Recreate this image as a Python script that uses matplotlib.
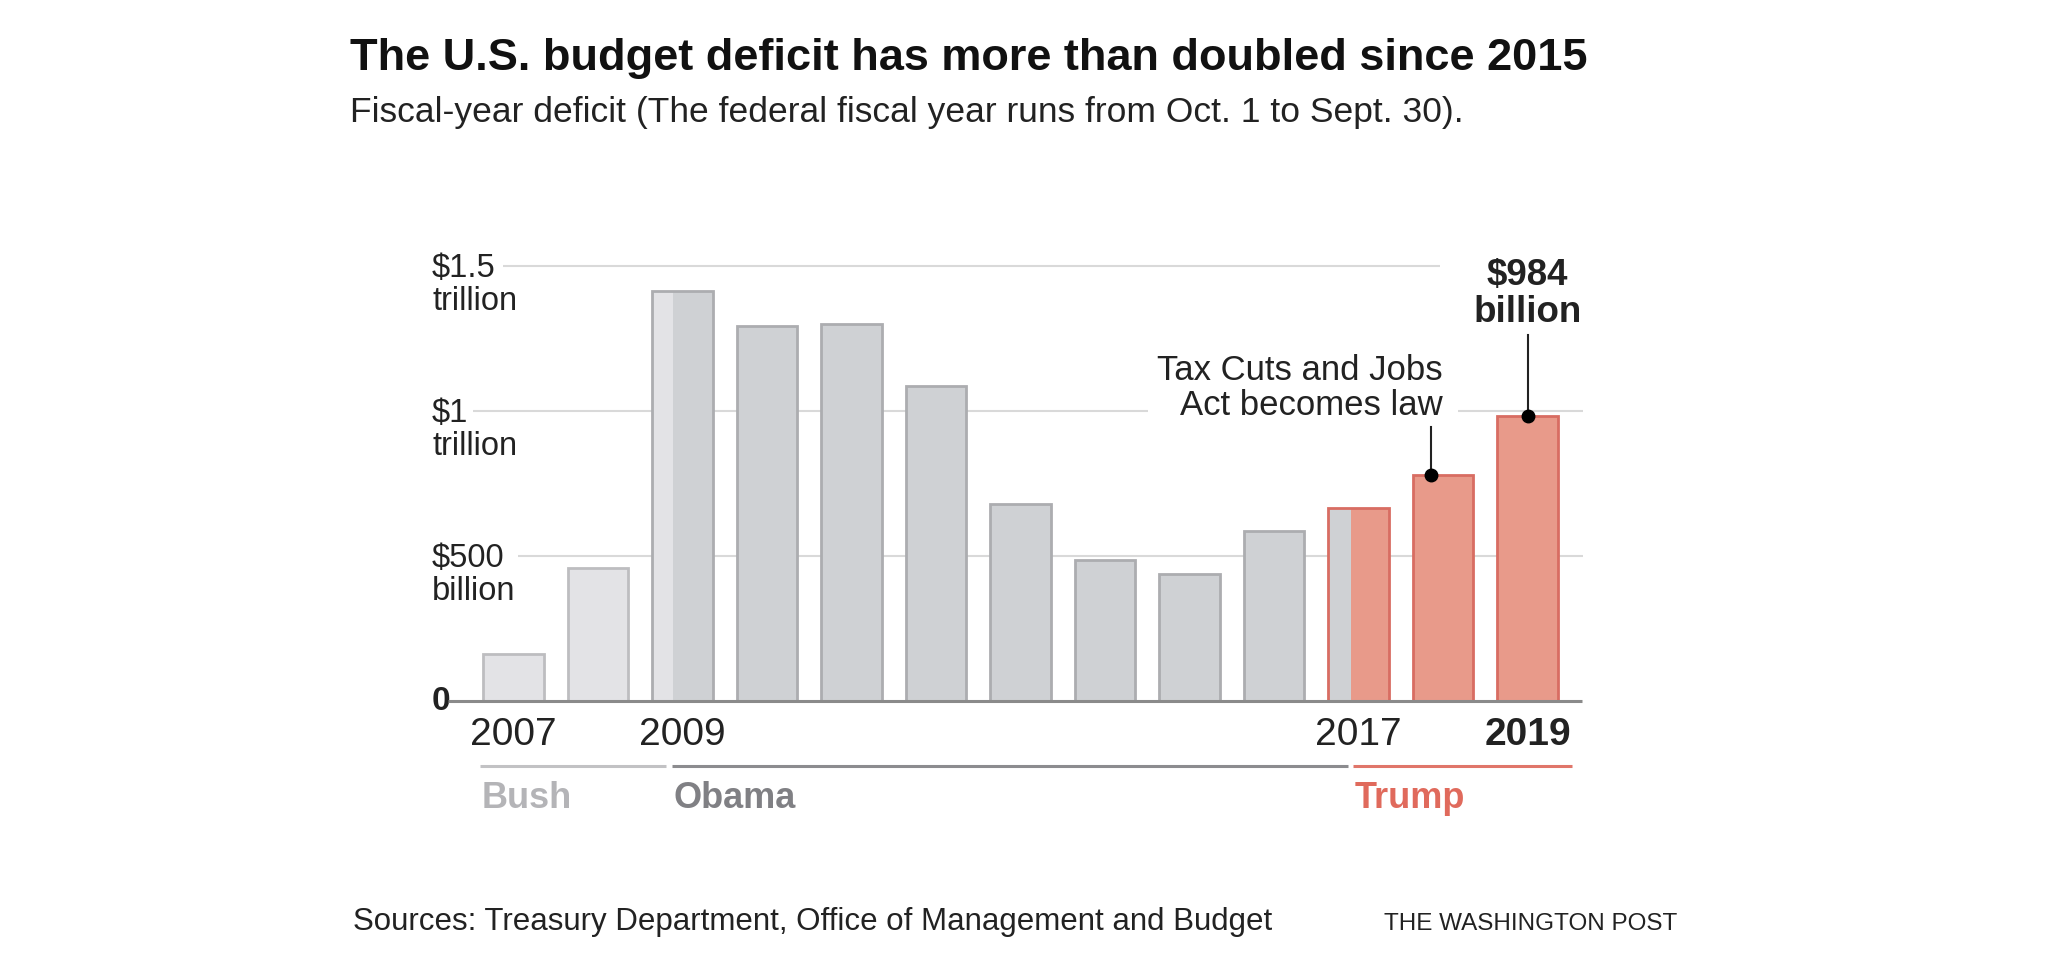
import numpy as np
import matplotlib
matplotlib.use('Agg')
import matplotlib.pyplot as plt

# deficit by fiscal year, billions of dollars
years = [2007, 2008, 2009, 2010, 2011, 2012, 2013, 2014, 2015, 2016, 2017, 2018, 2019]
deficit = [161, 459, 1413, 1294, 1300, 1087, 680, 485, 439, 585, 665, 779, 984]
# who held office for each year; transition years are split
first_pres = ['Bush', 'Bush', 'Bush', 'Obama', 'Obama', 'Obama', 'Obama', 'Obama',
              'Obama', 'Obama', 'Obama', 'Trump', 'Trump']
second_pres = [None, None, 'Obama', None, None, None, None, None,
               None, None, 'Trump', None, None]
first_share = [1, 1, 0.34, 1, 1, 1, 1, 1, 1, 1, 0.38, 1, 1]

year_labels = {2007: '2007', 2009: '2009', 2017: '2017', 2019: '2019'}
y_ticks = [500, 1000, 1500]
y_tick_top = ['$500', '$1', '$1.5']
y_tick_bottom = ['billion', 'trillion', 'trillion']

presidents = ['Bush', 'Obama', 'Trump']
pres_span = [(-0.40, 1.80), (1.87, 9.87), (9.93, 12.53)]

fill = {'Bush': '#e3e3e6', 'Obama': '#cfd1d4', 'Trump': '#e89a8a'}
edge = {'Bush': '#bdbdc0', 'Obama': '#acadb0', 'Trump': '#d86d62'}
line_col = {'Bush': '#c2c2c4', 'Obama': '#8c8c8f', 'Trump': '#e0766a'}
text_col = {'Bush': '#b4b4b7', 'Obama': '#808084', 'Trump': '#e06a5c'}

plt.rcParams['font.family'] = ['Liberation Sans', 'DejaVu Sans']

W, H = 2048, 966
fig = plt.figure(figsize=(W / 100, H / 100), dpi=100, facecolor='white')


def fx(px):
    return px / W


def fy(py):
    return 1 - py / H


ax = fig.add_axes([fx(440), fy(701), fx(1150), 461 / H])
ax.set_xlim(-0.870, 12.739)
ax.set_ylim(0, 1590)
ax.axis('off')

x = np.arange(len(years))
bw = 0.72

# gridlines
grid = '#d9d9d9'
ax.hlines(1500, -0.12, 10.96, color=grid, lw=1.5, zorder=1)
ax.hlines(1000, -0.48, 7.51, color=grid, lw=1.5, zorder=1)
ax.hlines(1000, 11.18, 12.66, color=grid, lw=1.5, zorder=1)
ax.hlines(500, 0.05, 12.66, color=grid, lw=1.5, zorder=1)

# bars
for i in range(len(years)):
    left = x[i] - bw / 2
    w1 = bw * first_share[i]
    ax.bar(left, deficit[i], width=w1, align='edge', color=fill[first_pres[i]],
           lw=0, zorder=2)
    outline = edge[first_pres[i]]
    if second_pres[i]:
        ax.bar(left + w1, deficit[i], width=bw - w1, align='edge',
               color=fill[second_pres[i]], lw=0, zorder=2)
        outline = edge[second_pres[i]]
    ax.bar(x[i], deficit[i], width=bw, fill=False, edgecolor=outline, lw=2, zorder=3)

# baseline
ax.hlines(0, -0.78, 12.65, color='#8a8a8a', lw=2.2, zorder=4, clip_on=False)

# y labels
for v, top, bot in zip(y_ticks, y_tick_top, y_tick_bottom):
    ax.text(-0.964, v - 38, top, fontsize=23.5, color='#222222', va='baseline', ha='left')
    ax.text(-0.964, v - 150, bot, fontsize=23.5, color='#222222', va='baseline', ha='left')
ax.text(-0.964, 0, '0', fontsize=24, fontweight='bold', color='#222222',
        va='center', ha='left', clip_on=False)

# year labels
for i, yr in enumerate(years):
    if yr in year_labels:
        bold = yr == years[-1]
        ax.text(x[i], -152, year_labels[yr], fontsize=28, ha='center', va='baseline',
                fontweight='bold' if bold else 'normal', color='#222222', clip_on=False)

# president spans
for p, (a, b) in zip(presidents, pres_span):
    ax.plot([a, b], [-224, -224], color=line_col[p], lw=2.2, clip_on=False,
            solid_capstyle='butt')
    ax.text(a + 0.02, -369, p, fontsize=26, fontweight='bold', color=text_col[p],
            ha='left', va='baseline', clip_on=False)

# annotations
ax.text(12, 1434, '$984', fontsize=26.5, fontweight='bold', color='#222222',
        ha='center', va='baseline')
ax.text(12, 1307, 'billion', fontsize=26.5, fontweight='bold', color='#222222',
        ha='center', va='baseline')
ax.plot([12, 12], [1262, deficit[12]], color='#222222', lw=1.5, zorder=5)
ax.plot(12, deficit[12], 'o', color='black', ms=9, zorder=6)

ax.text(11.0, 1107, 'Tax Cuts and Jobs', fontsize=25, color='#222222',
        ha='right', va='baseline')
ax.text(11.0, 986, 'Act becomes law', fontsize=25, color='#222222',
        ha='right', va='baseline')
ax.plot([10.86, 10.86], [945, deficit[11]], color='#222222', lw=1.5, zorder=5)
ax.plot(10.86, deficit[11], 'o', color='black', ms=9, zorder=6)

# title and notes
fig.text(fx(350), fy(70), 'The U.S. budget deficit has more than doubled since 2015',
         fontsize=32.5, fontweight='bold', color='#111111', va='baseline')
fig.text(fx(350), fy(122),
         'Fiscal-year deficit (The federal fiscal year runs from Oct. 1 to Sept. 30).',
         fontsize=25.5, color='#222222', va='baseline')
fig.text(fx(353), fy(930), 'Sources: Treasury Department, Office of Management and Budget',
         fontsize=22.5, color='#222222', va='baseline')
fig.text(fx(1384), fy(930), 'THE WASHINGTON POST', fontsize=17.5, color='#222222',
         va='baseline')

fig.savefig('out.png', dpi=100, facecolor='white')
